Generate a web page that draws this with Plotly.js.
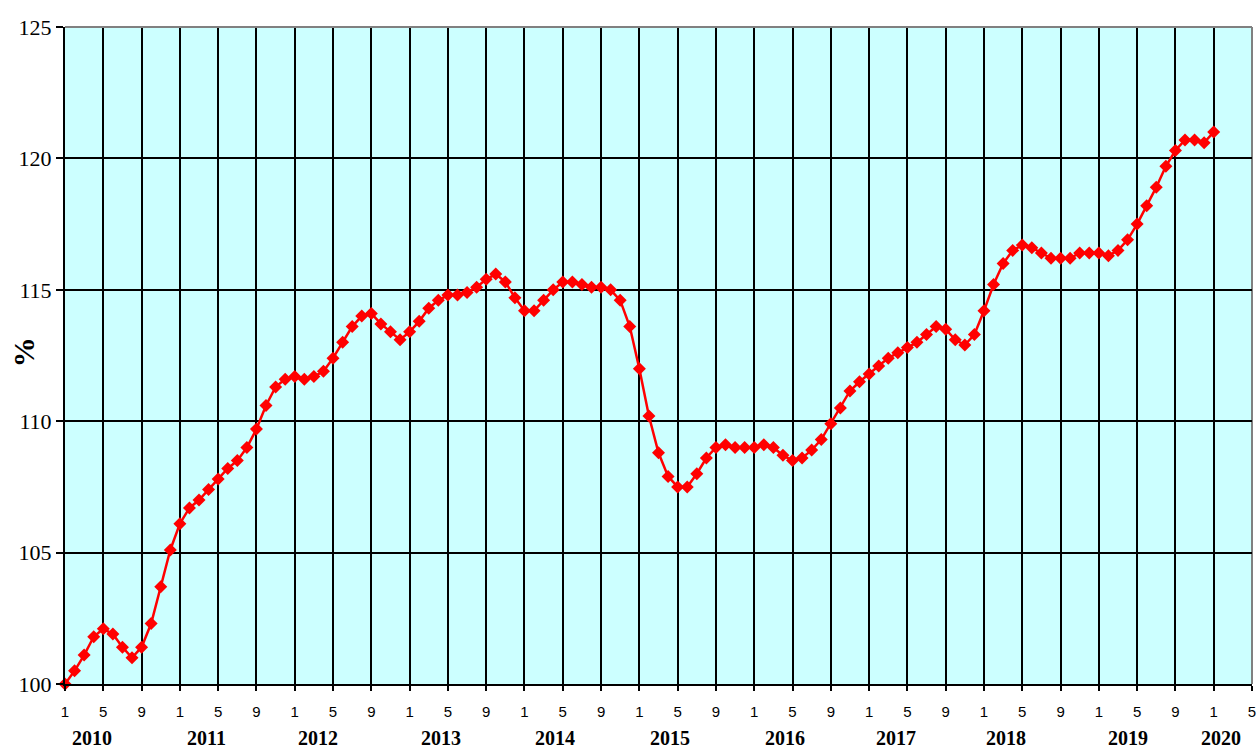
<!DOCTYPE html>
<html>
<head>
<meta charset="utf-8">
<script src="https://cdn.plot.ly/plotly-3.0.1.min.js"></script>
<style>html,body{margin:0;padding:0;background:#fff;}#chart{width:1258px;height:749px;}</style>
</head>
<body>
<div id="chart"></div>
<script>
// Monthly index values, Jan 2010 .. Jan 2020 (%)
const values = [
  100.0, 100.5, 101.1, 101.8, 102.1, 101.9, 101.4, 101.0, 101.4, 102.3, 103.7, 105.1,
  106.1, 106.7, 107.0, 107.4, 107.8, 108.2, 108.5, 109.0, 109.7, 110.6, 111.3, 111.6,
  111.7, 111.6, 111.7, 111.9, 112.4, 113.0, 113.6, 114.0, 114.1, 113.7, 113.4, 113.1,
  113.4, 113.8, 114.3, 114.6, 114.8, 114.8, 114.9, 115.1, 115.4, 115.6, 115.3, 114.7,
  114.2, 114.2, 114.6, 115.0, 115.3, 115.3, 115.2, 115.1, 115.1, 115.0, 114.6, 113.6,
  112.0, 110.2, 108.8, 107.9, 107.5, 107.5, 108.0, 108.6, 109.0, 109.1, 109.0, 109.0,
  109.0, 109.1, 109.0, 108.7, 108.5, 108.6, 108.9, 109.3, 109.9, 110.5, 111.15, 111.5,
  111.8, 112.1, 112.4, 112.6, 112.8, 113.0, 113.3, 113.6, 113.5, 113.1, 112.9, 113.3,
  114.2, 115.2, 116.0, 116.5, 116.7, 116.6, 116.4, 116.2, 116.2, 116.2, 116.4, 116.4,
  116.4, 116.3, 116.5, 116.9, 117.5, 118.2, 118.9, 119.7, 120.3, 120.7, 120.7, 120.6,
  121.0
];
const monthIndex = values.map((v, i) => i);

// x-axis ticks: months 1, 5, 9 of each year, Jan 2010 .. May 2020
const tickVals = [];
const tickText = [];
for (let i = 0; i <= 124; i += 4) { tickVals.push(i); tickText.push(String((i % 12) + 1)); }

const years = ["2010","2011","2012","2013","2014","2015","2016","2017","2018","2019","2020"];
const yearLabelPos = [2.8, 14.8, 26.4, 39.3, 51.2, 63.2, 75.2, 86.8, 98.3, 111.0, 120.8];

const trace = {
  x: monthIndex,
  y: values,
  type: 'scatter',
  mode: 'lines+markers',
  cliponaxis: false,
  line: {color: '#ff0000', width: 2.5},
  marker: {symbol: 'diamond', size: 10, color: '#ff0000'},
  hoverinfo: 'x+y'
};

const annotations = years.map((t, k) => ({
  x: yearLabelPos[k], xref: 'x', y: 0, yref: 'paper',
  yanchor: 'middle', xanchor: 'center', yshift: -54,
  text: '<b>' + t + '</b>', showarrow: false,
  font: {family: 'Liberation Serif, Times New Roman, serif', size: 20, color: '#000'}
}));
annotations.push({
  x: 0, xref: 'paper', y: 0.505, yref: 'paper', xanchor: 'center', yanchor: 'middle',
  xshift: -42, textangle: -90, showarrow: false, text: '<b>%</b>',
  font: {family: 'Liberation Serif, Times New Roman, serif', size: 30, color: '#000'}
});

const layout = {
  width: 1258, height: 749,
  margin: {l: 65, r: 6, t: 27, b: 65},
  paper_bgcolor: '#ffffff',
  plot_bgcolor: '#ccffff',
  showlegend: false,
  xaxis: {
    range: [0, 124],
    tickmode: 'array', tickvals: tickVals, ticktext: tickText,
    ticks: 'outside', ticklen: 5, tickwidth: 2, tickcolor: '#000',
    showgrid: true, gridcolor: '#000', gridwidth: 2,
    showline: true, linecolor: '#000', linewidth: 2,
    zeroline: false,
    ticklabelstandoff: 8,
    tickfont: {family: 'Liberation Sans, Arial, sans-serif', size: 15, color: '#000'}
  },
  yaxis: {
    range: [100, 125], dtick: 5, tick0: 100,
    ticks: 'outside', ticklen: 7, tickwidth: 2, tickcolor: '#000',
    showgrid: true, gridcolor: '#000', gridwidth: 2,
    showline: true, linecolor: '#000', linewidth: 2,
    zeroline: false,
    tickfont: {family: 'Liberation Serif, Times New Roman, serif', size: 22, color: '#000'}
  },
  shapes: [
    {type: 'line', xref: 'paper', yref: 'paper', x0: 0, x1: 1, y0: 1, y1: 1,
     line: {color: '#808080', width: 2}, layer: 'above'},
    {type: 'line', xref: 'paper', yref: 'paper', x0: 1, x1: 1, y0: 0, y1: 1,
     line: {color: '#808080', width: 2}, layer: 'below'}
  ],
  annotations: annotations
};

Plotly.newPlot('chart', [trace], layout, {displayModeBar: false, staticPlot: true});
</script>
</body>
</html>
